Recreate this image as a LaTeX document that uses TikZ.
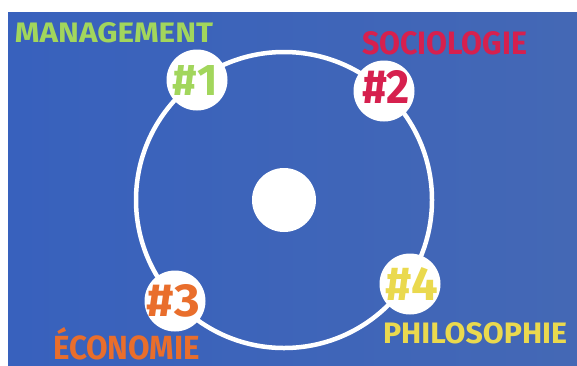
\documentclass[tikz,border=0pt]{standalone}
\usepackage{fontspec}
\setmainfont{Fira Sans}
\usepackage{graphicx}
\definecolor{bgleft}{HTML}{3861BD}
\definecolor{bgright}{HTML}{4468B5}
\definecolor{mgreen}{HTML}{A2D65C}
\definecolor{mred}{HTML}{D6204E}
\definecolor{morange}{HTML}{E96E2C}
\definecolor{myellow}{HTML}{EAD94E}
\begin{document}
\begin{tikzpicture}[x=1pt,y=-1pt,
  lbl/.style={inner sep=0pt, outer sep=0pt, font=\bfseries},
  numdot/.style={circle, fill=white, inner sep=0pt, minimum size=61pt},
  hubdot/.style={circle, fill=white, inner sep=0pt, minimum size=64pt},
  ring/.style={draw=white, line width=4.5pt}]
\useasboundingbox (0,0) rectangle (577,365);
\fill[white] (0,0) rectangle (577,365);
\shade[left color=bgleft, right color=bgright] (8,12) rectangle (577,365);
% ring
\coordinate (ctr) at (284,200);
\draw[ring] (ctr) circle[radius=148];
% hub
\node[hubdot] (hub) at (ctr) {};
% number dots
\node[numdot] (d1) at (197,80) {};
\node[numdot] (d2) at (384,91) {};
\node[numdot] (d3) at (175,301) {};
\node[numdot] (d4) at (410,284) {};
% numbers
\node[lbl, text=mgreen]  (t1) at (195.5,80)  {\resizebox{45pt}{30pt}{\#1}};
\node[lbl, text=mred]    (t2) at (386,86.5)  {\resizebox{48pt}{33pt}{\#2}};
\node[lbl, text=morange] (t3) at (173.5,301) {\resizebox{53pt}{32pt}{\#3}};
\node[lbl, text=myellow] (t4) at (411.5,283.5) {\resizebox{53pt}{33pt}{\#4}};
% titles
\node[lbl, text=mgreen, anchor=south west]  (m) at (15,43)  {\resizebox{198pt}{20pt}{MANAGEMENT}};
\node[lbl, text=mred, anchor=south west]    (s) at (362,55) {\resizebox{165pt}{23pt}{SOCIOLOGIE}};
\node[lbl, text=morange, anchor=south west] (e) at (53,360.5) {\resizebox{147pt}{32pt}{ÉCONOMIE}};
\node[lbl, text=myellow, anchor=south west] (p) at (383,344) {\resizebox{184pt}{21pt}{PHILOSOPHIE}};
\end{tikzpicture}
\end{document}
